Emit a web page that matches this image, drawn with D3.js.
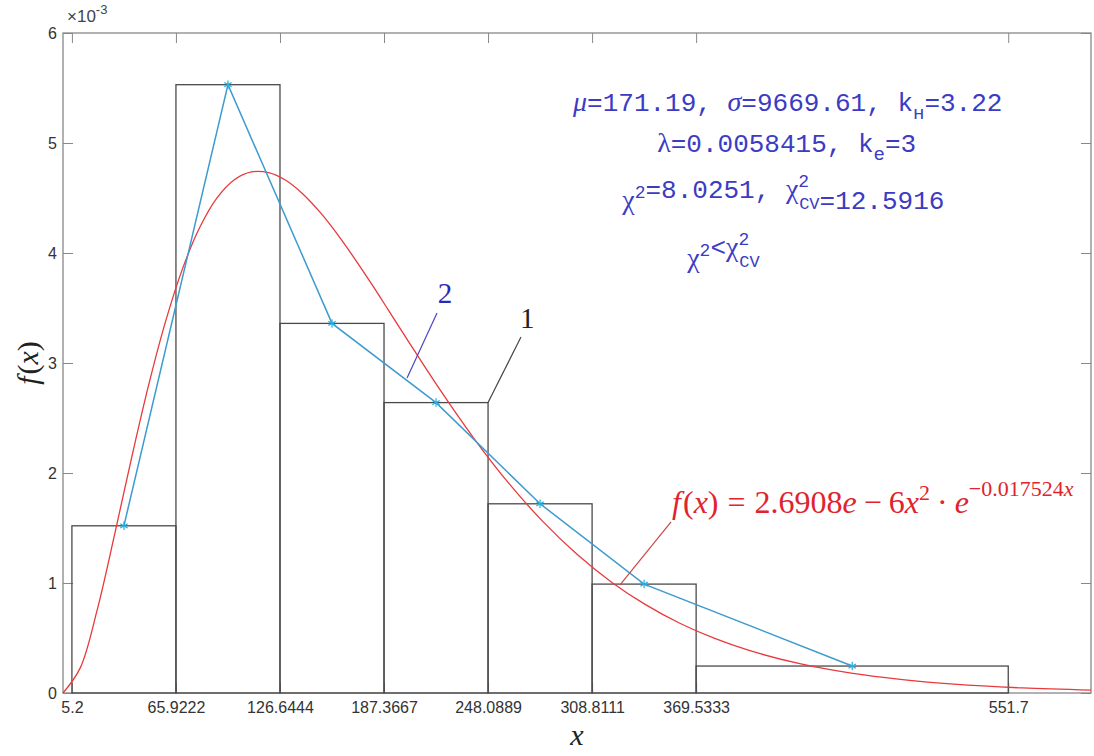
<!DOCTYPE html>
<html>
<head>
<meta charset="utf-8">
<script src="https://cdn.jsdelivr.net/npm/d3@7"></script>
<style>
	body { margin: 0; background: #fff; }
	svg { display: block; }
</style>
</head>
<body>
<div id="chart"></div>
<script>
// bin edges of the histogram (also the x tick labels)
const binEdges = [5.2, 65.9222, 126.6444, 187.3667, 248.0889, 308.8111, 369.5333, 551.7];
const binDensity = [0.00152, 0.00553, 0.00336, 0.00264, 0.00172, 0.00099, 0.000245];
// frequency polygon through bin centres (curve 2)
const polyX = [35.56, 96.28, 157.01, 217.73, 278.45, 339.17, 460.62];
const polyY = [0.00152, 0.00553, 0.00336, 0.00264, 0.00172, 0.00099, 0.000245];
// fitted density (red curve)
const fitX = [0, 10, 20, 30, 40, 50, 60, 70, 80, 90, 100, 110, 120, 130, 140, 150, 160, 170, 180, 190, 200,
	220, 240, 260, 280, 300, 320, 340, 360, 380, 400, 430, 460, 490, 520, 560, 600];
const fitY = [0, 0.226, 0.758, 1.432, 2.136, 2.801, 3.385, 3.867, 4.238, 4.503, 4.666, 4.737, 4.731, 4.661,
	4.537, 4.371, 4.174, 3.954, 3.721, 3.479, 3.235, 2.757, 2.311, 1.910, 1.560, 1.261, 1.010, 0.803, 0.634,
	0.498, 0.389, 0.266, 0.180, 0.121, 0.080, 0.046, 0.026].map(v => v / 1000);
const yTicks = [0, 0.001, 0.002, 0.003, 0.004, 0.005, 0.006];

const width = 1094, height = 756;
const margins = { top: 33, left: 63, right: 3, bottom: 63 };
const qw = width - margins.left - margins.right;
const qh = height - margins.top - margins.bottom;

const svg = d3.select('#chart').append('svg')
	.attr('width', width)
	.attr('height', height);

const xScale = d3.scaleLinear().domain([0, 600]).range([0, qw]);
const yScale = d3.scaleLinear().domain([0, 0.006]).range([qh, 0]);

const g = svg.append('g').attr('transform', `translate(${margins.left},${margins.top})`);

// axes with inward ticks on all four sides
const tickFont = 'Liberation Sans, Arial, sans-serif';
const styleAxis = sel => {
	sel.select('.domain').remove();
	sel.selectAll('line').attr('stroke', '#888').attr('stroke-width', 1);
	sel.selectAll('text').attr('fill', '#333').style('font-family', tickFont).style('font-size', '16px');
};
g.append('g').attr('transform', `translate(0,${qh})`)
	.call(d3.axisBottom(xScale).tickValues(binEdges).tickFormat(d => d).tickSizeInner(-10).tickSizeOuter(0).tickPadding(9))
	.call(styleAxis);
g.append('g')
	.call(d3.axisTop(xScale).tickValues(binEdges).tickFormat('').tickSizeInner(-10).tickSizeOuter(0))
	.call(styleAxis);
g.append('g')
	.call(d3.axisLeft(yScale).tickValues(yTicks).tickFormat(d => Math.round(d * 1000)).tickSizeInner(-10).tickSizeOuter(0).tickPadding(6))
	.call(styleAxis);
g.append('g').attr('transform', `translate(${qw},0)`)
	.call(d3.axisRight(yScale).tickValues(yTicks).tickFormat('').tickSizeInner(-10).tickSizeOuter(0))
	.call(styleAxis);
g.append('rect')
	.attr('width', qw).attr('height', qh)
	.attr('fill', 'none').attr('stroke', '#888').attr('stroke-width', 1.3);

// exponent
const ex = g.append('text')
	.attr('x', 4).attr('y', -11)
	.attr('fill', '#444')
	.style('font-family', tickFont).style('font-size', '17px');
ex.append('tspan').text('×10');
ex.append('tspan').attr('dy', -8).style('font-size', '13px').text('-3');

// histogram bars (1)
g.append('g').selectAll('rect')
	.data(binDensity)
	.join('rect')
	.attr('x', (d, i) => xScale(binEdges[i]))
	.attr('y', d => yScale(d))
	.attr('width', (d, i) => xScale(binEdges[i + 1]) - xScale(binEdges[i]))
	.attr('height', d => qh - yScale(d))
	.attr('fill', 'none')
	.attr('stroke', '#4a4a4a')
	.attr('stroke-width', 1.3);

// fitted curve
const fitLine = d3.line().x(d => xScale(d[0])).y(d => yScale(d[1])).curve(d3.curveCatmullRom);
g.append('path')
	.datum(fitX.map((x, i) => [x, fitY[i]]))
	.attr('d', fitLine)
	.attr('fill', 'none')
	.attr('stroke', '#e8393c')
	.attr('stroke-width', 1.3);

// polygon (2)
const polyData = polyX.map((x, i) => [x, polyY[i]]);
g.append('path')
	.datum(polyData)
	.attr('d', d3.line().x(d => xScale(d[0])).y(d => yScale(d[1])))
	.attr('fill', 'none')
	.attr('stroke', '#3d9bcf')
	.attr('stroke-width', 1.5);
g.append('g').selectAll('path')
	.data(polyData)
	.join('path')
	.attr('transform', d => `translate(${xScale(d[0])},${yScale(d[1])})`)
	.attr('d', d3.symbol().type(d3.symbolAsterisk).size(50))
	.attr('fill', 'none')
	.attr('stroke', '#22b0e0')
	.attr('stroke-width', 1.2);

// leader lines and labels, in data coordinates
const leaders = [
	{ from: [218.3, 0.003455], to: [200.8, 0.002864], color: '#4646c8' },
	{ from: [267.3, 0.003236], to: [248.0889, 0.00264], color: '#444' },
	{ from: [354.9, 0.001555], to: [325.1, 0.000982], color: '#c84848' }
];
g.append('g').selectAll('line')
	.data(leaders)
	.join('line')
	.attr('x1', d => xScale(d.from[0])).attr('y1', d => yScale(d.from[1]))
	.attr('x2', d => xScale(d.to[0])).attr('y2', d => yScale(d.to[1]))
	.attr('stroke', d => d.color)
	.attr('stroke-width', 1.2);

const serif = 'Liberation Serif, Times New Roman, serif';
g.append('text')
	.attr('x', xScale(223)).attr('y', yScale(0.003636))
	.attr('dy', '0.35em').attr('text-anchor', 'middle')
	.attr('fill', '#2a2ab8')
	.style('font-family', serif).style('font-size', '29px')
	.text('2');
g.append('text')
	.attr('x', xScale(270.9)).attr('y', yScale(0.003409))
	.attr('dy', '0.35em').attr('text-anchor', 'middle')
	.attr('fill', '#222')
	.style('font-family', serif).style('font-size', '29px')
	.text('1');

// formula of the fit
const fx = g.append('text')
	.attr('x', xScale(355.5)).attr('y', yScale(0.00164))
	.attr('fill', '#e0232e')
	.style('font-family', serif).style('font-size', '32px');
fx.append('tspan').style('font-style', 'italic').text('f');
fx.append('tspan').attr('dx', 2).text('(');
fx.append('tspan').style('font-style', 'italic').text('x');
fx.append('tspan').text(')');
fx.append('tspan').attr('dx', 9).text('=');
fx.append('tspan').attr('dx', 9).text('2.6908');
fx.append('tspan').style('font-style', 'italic').text('e');
fx.append('tspan').attr('dx', 7).text('−');
fx.append('tspan').attr('dx', 7).text('6');
fx.append('tspan').style('font-style', 'italic').text('x');
fx.append('tspan').attr('dy', -13).style('font-size', '22px').text('2');
fx.append('tspan').attr('dx', 7).attr('dy', 13).text('·');
fx.append('tspan').attr('dx', 7).style('font-style', 'italic').text('e');
fx.append('tspan').attr('dy', -17).style('font-size', '22px').text('−0.017524');
fx.append('tspan').style('font-size', '22px').style('font-style', 'italic').text('x');

// statistics block
const mono = 'Liberation Mono, Courier New, monospace';
const statColor = '#3b3bc4';
const statLine = (x, y) => g.append('text')
	.attr('x', xScale(x)).attr('y', yScale(y))
	.attr('dy', '0.35em')
	.attr('fill', statColor)
	.style('font-family', mono).style('font-size', '26px');
const greek = (t, s, italic) => t.append('tspan')
	.style('font-family', serif).style('font-style', italic ? 'italic' : 'normal').style('font-size', '28px').text(s);
// chi with superscript 2 and (optional) subscript CV stacked under it
const chi = (t, withSub) => {
	greek(t, 'χ', false);
	t.append('tspan').attr('dy', -11).style('font-size', '18px').text('2');
	if (withSub) {
		t.append('tspan').attr('dx', -10).attr('dy', 22).style('font-size', '17px').text('CV');
		t.append('tspan').attr('dy', -11).text('');
	} else {
		t.append('tspan').attr('dy', 11).text('');
	}
};

let t1 = statLine(297.7, 0.005373);
greek(t1, 'μ', true);
t1.append('tspan').text('=171.19, ');
greek(t1, 'σ', true);
t1.append('tspan').text('=9669.61, k');
t1.append('tspan').attr('dy', 8).style('font-size', '19px').text('н');
t1.append('tspan').attr('dy', -8).text('=3.22');

let t2 = statLine(346.8, 0.005);
greek(t2, 'λ', false);
t2.append('tspan').text('=0.0058415, k');
t2.append('tspan').attr('dy', 8).style('font-size', '19px').text('e');
t2.append('tspan').attr('dy', -8).text('=3');

let t3 = statLine(326.4, 0.00448);
chi(t3, false);
t3.append('tspan').text('=8.0251, ');
chi(t3, true);
t3.append('tspan').text('=12.5916');

let t4 = statLine(364.3, 0.003955);
chi(t4, false);
t4.append('tspan').text('<');
chi(t4, true);

// axis titles
svg.append('text')
	.attr('x', margins.left + xScale(300)).attr('y', 745)
	.attr('text-anchor', 'middle')
	.attr('fill', '#222')
	.style('font-family', serif).style('font-style', 'italic').style('font-size', '30px')
	.text('x');
const yl = svg.append('text')
	.attr('transform', `translate(38,${margins.top + qh / 2}) rotate(-90)`)
	.attr('text-anchor', 'middle')
	.attr('fill', '#222')
	.style('font-family', serif).style('font-size', '30px');
yl.append('tspan').style('font-style', 'italic').text('f');
yl.append('tspan').attr('dx', 2).text('(');
yl.append('tspan').style('font-style', 'italic').text('x');
yl.append('tspan').text(')');
</script>
</body>
</html>
